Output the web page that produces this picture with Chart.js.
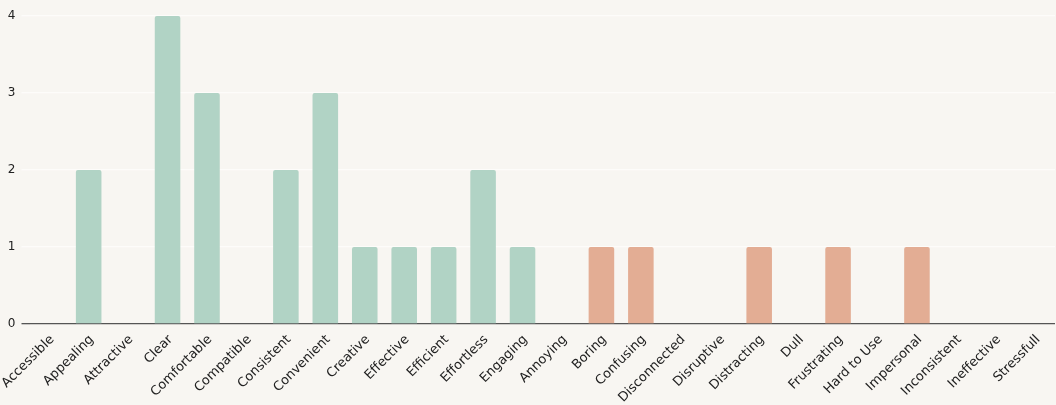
<!DOCTYPE html>
<html>
<head>
<meta charset="utf-8">
<script src="https://cdn.jsdelivr.net/npm/chart.js@4"></script>
<style>
  html, body { margin: 0; padding: 0; background: #f8f6f2; }
  #wrap { width: 1056px; height: 405px; position: relative; }
</style>
</head>
<body>
<div id="wrap"><canvas id="chart"></canvas></div>
<script>
// words picked, positive first then negative
const categories = ['Accessible', 'Appealing', 'Attractive', 'Clear', 'Comfortable', 'Compatible',
  'Consistent', 'Convenient', 'Creative', 'Effective', 'Efficient', 'Effortless', 'Engaging',
  'Annoying', 'Boring', 'Confusing', 'Disconnected', 'Disruptive', 'Distracting', 'Dull',
  'Frustrating', 'Hard to Use', 'Impersonal', 'Inconsistent', 'Ineffective', 'Stressfull'];
const counts = [0, 2, 0, 4, 3, 0, 2, 3, 1, 1, 1, 2, 1, 0, 1, 1, 0, 0, 1, 0, 1, 0, 1, 0, 0, 0];
const positiveCount = 13;
const yTicks = [0, 1, 2, 3, 4];

const green = '#b1d3c5';
const orange = '#e3ad94';

const ctx = document.getElementById('chart').getContext('2d');
new Chart(ctx, {
  type: 'bar',
  data: {
    labels: categories,
    datasets: [{
      data: counts,
      backgroundColor: categories.map((c, i) => i < positiveCount ? green : orange),
      borderRadius: { topLeft: 2, topRight: 2 },
      borderSkipped: 'bottom',
      barPercentage: 0.9,
      categoryPercentage: 0.72
    }]
  },
  options: {
    responsive: true,
    maintainAspectRatio: false,
    animation: false,
    layout: { padding: { top: 16, right: 1, left: 0, bottom: 0 } },
    plugins: { legend: { display: false }, tooltip: { enabled: false } },
    scales: {
      x: {
        grid: { display: false },
        border: { display: false },
        afterFit: axis => {
          axis.height = 81;
          axis.paddingLeft = 0;
          axis.paddingRight = 0;
        },
        ticks: {
          color: '#222',
          padding: 0,
          labelOffset: 3,
          font: { family: 'DejaVu Sans', size: 13 },
          maxRotation: 45, minRotation: 45, autoSkip: false
        }
      },
      y: {
        min: 0, max: 4,
        afterBuildTicks: axis => { axis.ticks = yTicks.map(v => ({ value: v })); },
        afterFit: axis => {
          axis.width = 29.5;
          axis.paddingTop = 0;
          axis.paddingBottom = 0;
        },
        grid: {
          color: c => c.tick && c.tick.value === 0 ? '#555555' : '#fdfcfa',
          lineWidth: 1.3,
          drawTicks: true,
          tickLength: 8
        },
        border: { display: false },
        ticks: {
          color: '#222', padding: 6,
          font: { family: 'DejaVu Sans', size: 12 }
        }
      }
    }
  }
});
</script>
</body>
</html>
